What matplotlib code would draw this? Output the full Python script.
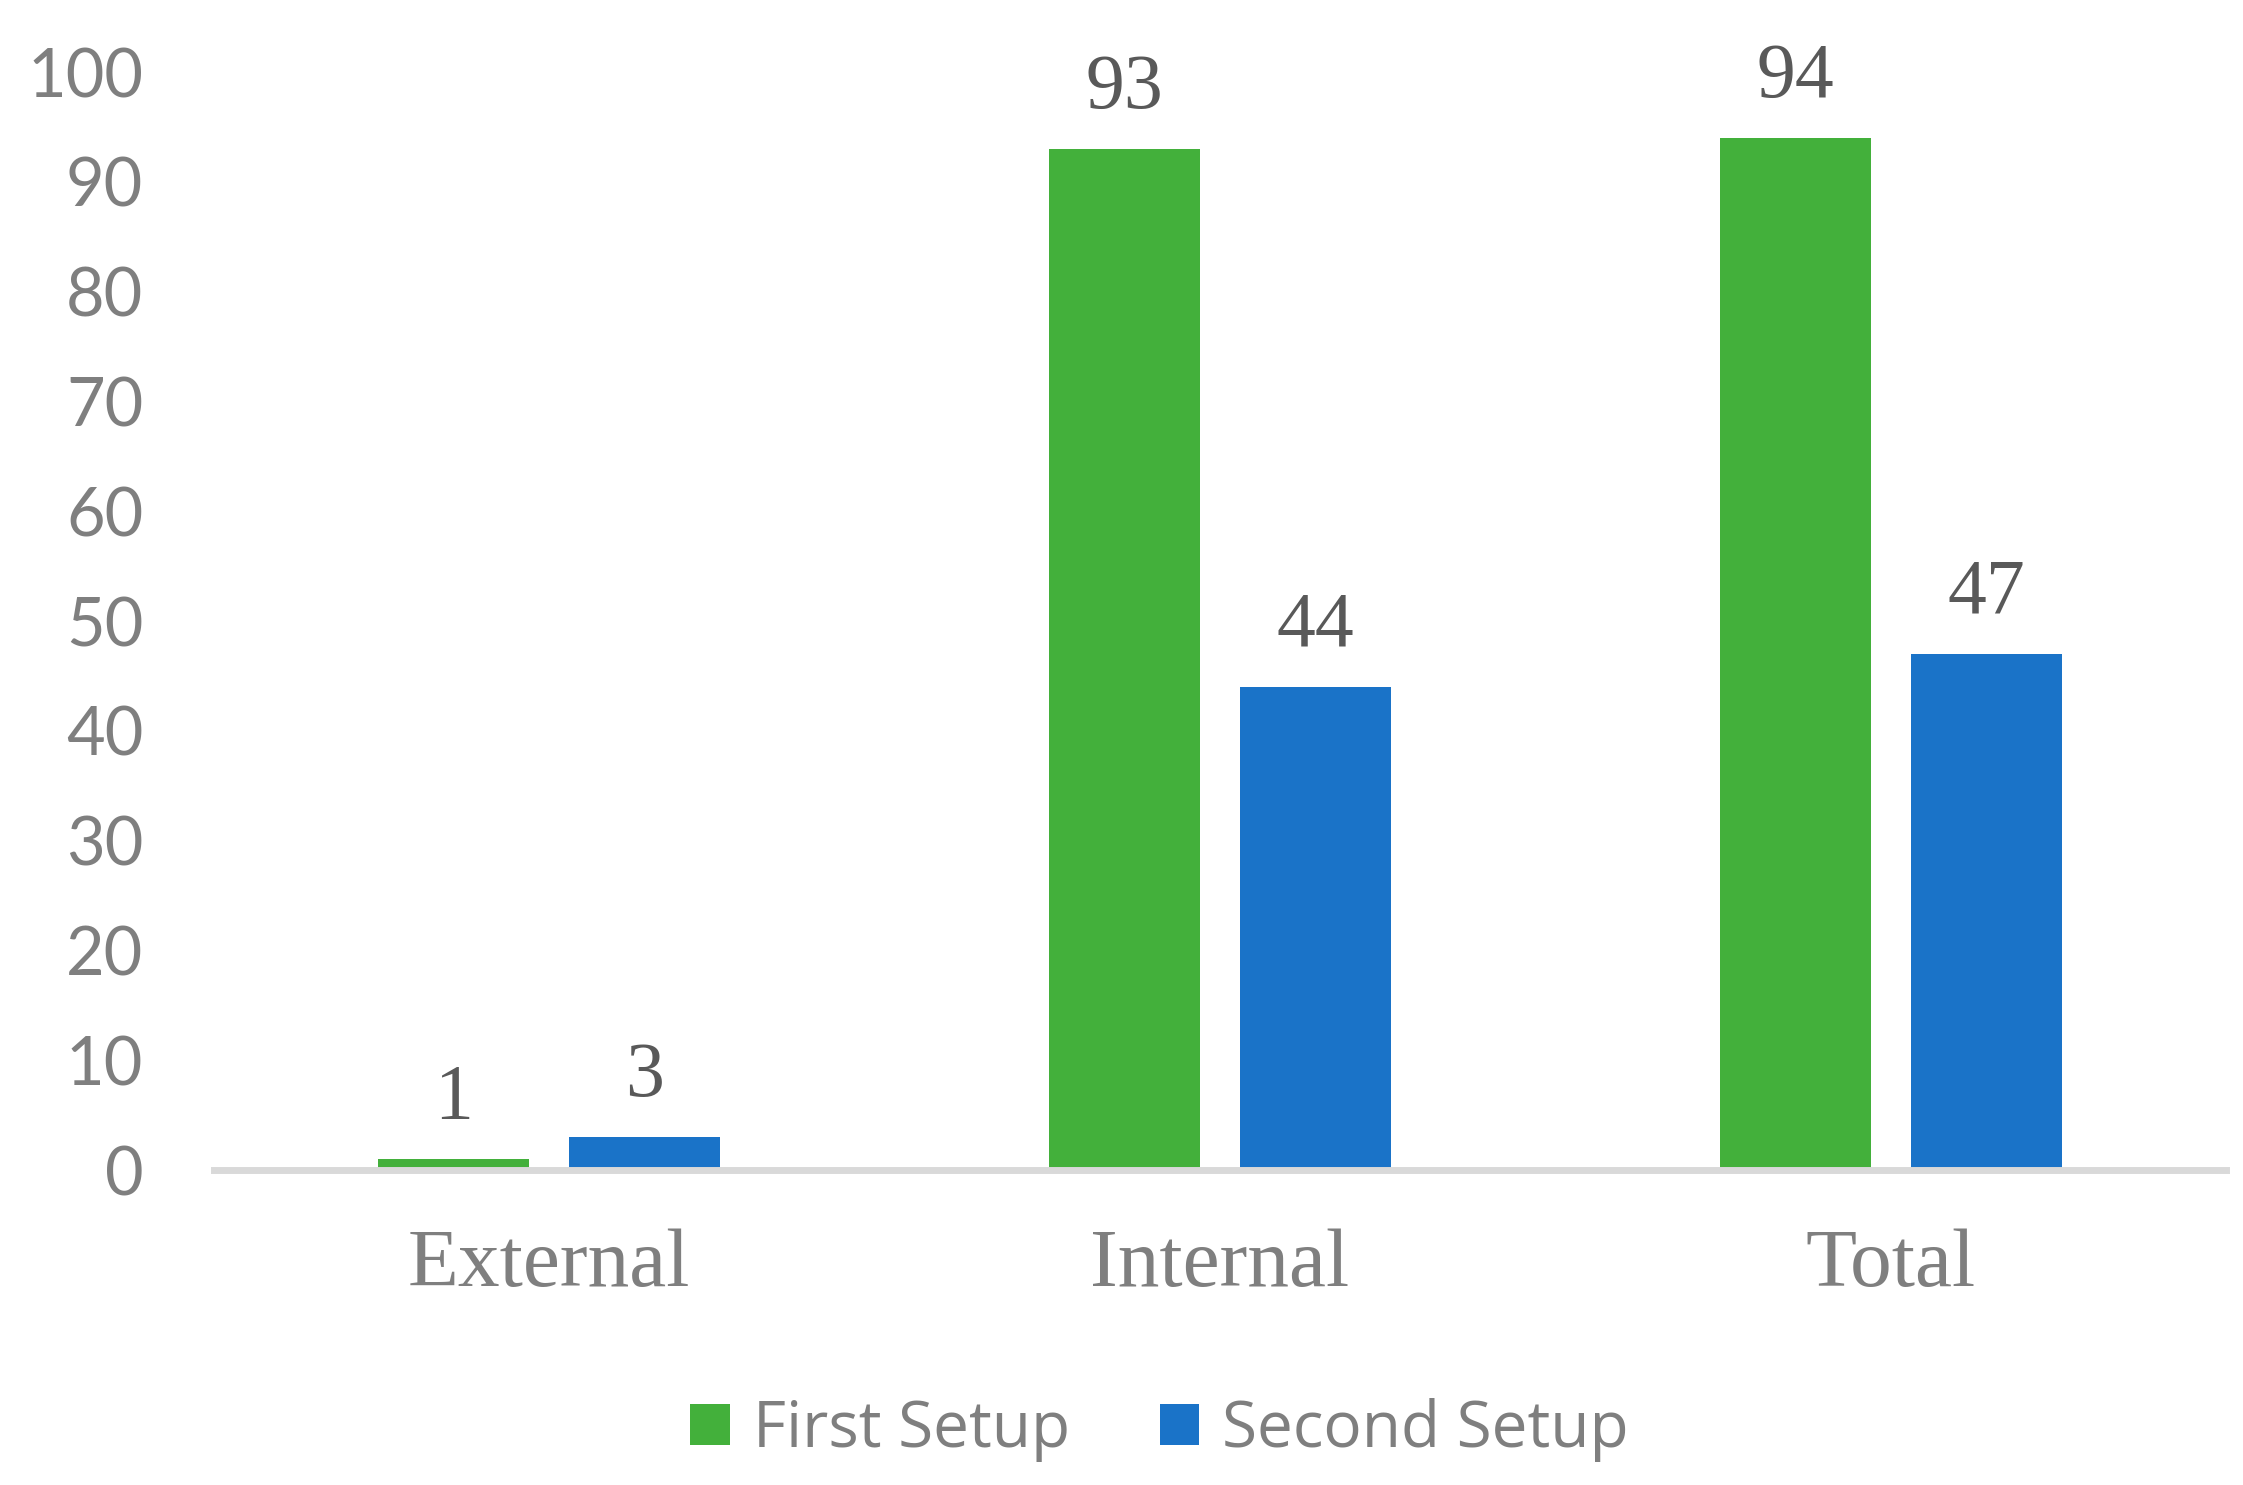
import matplotlib
matplotlib.use("Agg")
import matplotlib.pyplot as plt
import numpy as np

categories = ["External", "Internal", "Total"]
series_names = ["First Setup", "Second Setup"]
first_setup = [1, 93, 94]
second_setup = [3, 44, 47]
y_ticks = [0, 10, 20, 30, 40, 50, 60, 70, 80, 90, 100]

colors = ["#43B03B", "#1A73C8"]
tick_color = "#7F7F7F"
label_color = "#595959"

DPI = 200
fig = plt.figure(figsize=(2243 / DPI, 1485 / DPI), dpi=DPI)
ax = fig.add_axes([0.0954, 0.2121, 0.8970, 0.7394])

x = np.arange(len(categories))
width = 0.225
offset = 0.1425

bars1 = ax.bar(x - offset, first_setup, width, color=colors[0], label=series_names[0], zorder=2)
bars2 = ax.bar(x + offset, second_setup, width, color=colors[1], label=series_names[1], zorder=2)

for bars, vals in ((bars1, first_setup), (bars2, second_setup)):
    for b, v in zip(bars, vals):
        ax.annotate(f"{v}", xy=(b.get_x() + b.get_width() / 2, v),
                    xytext=(0, 14.8), textcoords="offset points",
                    ha="center", va="baseline", fontsize=28,
                    family=["Liberation Serif", "DejaVu Serif"], color=label_color)

ax.set_xlim(-0.5, len(categories) - 0.5)
ax.set_ylim(0, 100)
ax.set_yticks(y_ticks)
ax.set_yticklabels([str(t) for t in y_ticks], fontsize=24,
                   family=["Lato", "DejaVu Sans"], color=tick_color)
ax.set_xticks(x)
ax.set_xticklabels(categories, fontsize=30,
                   family=["Liberation Serif", "DejaVu Serif"], color=tick_color)
ax.tick_params(axis="y", length=0, pad=25.5)
ax.tick_params(axis="x", length=0, pad=21)

for s in ("top", "right", "left"):
    ax.spines[s].set_visible(False)
ax.spines["bottom"].set_color("#D9D9D9")
ax.spines["bottom"].set_linewidth(2.5)
ax.spines["bottom"].set_zorder(3)

leg = fig.legend(handles=[bars1, bars2], labels=series_names,
                 loc="center", bbox_to_anchor=(0.517, 0.037), ncol=2,
                 frameon=False, prop={"family": ["Open Sans", "DejaVu Sans"], "size": 23},
                 handlelength=0.62, handleheight=0.62, handletextpad=0.36,
                 columnspacing=1.4, labelcolor=tick_color)

fig.savefig("out.png", dpi=DPI, facecolor="white")
